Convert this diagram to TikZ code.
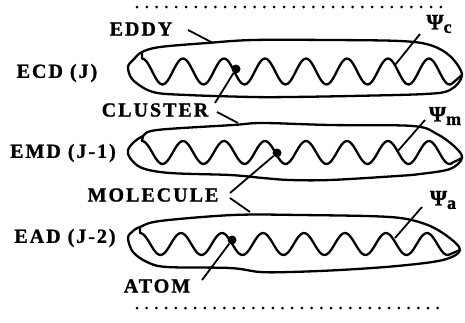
\documentclass[tikz,border=0pt]{standalone}
\usepackage{fontspec}
\setmainfont{Liberation Serif}
\begin{document}
\begin{tikzpicture}[x=1pt,y=-1pt,
  lbl/.style={font=\fontsize{20}{20}\selectfont\bfseries\addfontfeature{LetterSpace=10,FakeBold=1.2}, inner sep=0pt},
  psi/.style={font=\fontsize{22}{22}\selectfont\bfseries\addfontfeature{FakeBold=1.2}, inner sep=0pt},
  outline/.style={line width=2.3pt, line join=round},
  wave/.style={line width=2.3pt, line join=round, line cap=round},
  leader/.style={line width=1.8pt},
  dotmark/.style={circle, fill, inner sep=0pt, minimum size=9pt}
]
\path[use as bounding box] (0,0) rectangle (465,322);

% dotted lines
\foreach \x in {0,...,31} \fill (137+9.8*\x,7) circle (1.5);
\foreach \x in {0,...,31} \fill (137+9.7*\x,308) circle (1.5);

% ---------- row 1 ----------
\draw[outline] plot[smooth cycle, tension=0.55] coordinates {
 (142,52) (160,47) (207,43) (253,40) (330,40) (400,41) (430,45) (450,56) (462,75)
 (450,90) (425,94) (350,96) (290,97) (253,97) (187,95) (153,92) (133,80) (128,67) (134,59)};
\draw[wave] (142,52) -- plot[domain=142:452, samples=160, smooth] (\x,{71.5-13*cos(8.7805*(\x-142))}) -- (462,75);

% ---------- row 2 ----------
\draw[outline] plot[smooth cycle, tension=0.55] coordinates {
 (143,136) (157,130) (233,125) (263,123) (330,125) (413,126) (437,134) (455,147) (462,158)
 (450,169) (420,174) (397,176) (330,180) (290,180) (263,178) (230,175) (170,173) (142,168) (130,158) (128,150) (134,142)};
\draw[wave] (143,136) -- plot[domain=142:453, samples=160, smooth] (\x,{152.5-11.5*cos(8.7805*(\x-142))}) -- (462,158);

% ---------- row 3 ----------
\draw[outline] plot[smooth cycle, tension=0.55] coordinates {
 (140,227) (160,221) (233,215) (300,215) (390,217) (425,224) (447,236) (460,250)
 (443,260) (397,266) (340,270) (290,272) (260,272) (230,268) (167,267) (147,262) (133,252) (128,238) (133,231)};
\draw[wave] (140,227) -- plot[domain=140:450, samples=160, smooth] (\x,{244-11*cos(8.7805*(\x-140))}) -- (460,250);

% dots
\node[dotmark] (dotc) at (236,69) {};
\node[dotmark] (dotm) at (277,153) {};
\node[dotmark] (dota) at (232,240) {};

% labels
\node[lbl] (eddy) at (141,29) {EDDY};
\node[lbl] (ecd) at (57,73) {ECD (J)};
\node[lbl] (cluster) at (155,110) {CLUSTER};
\node[lbl] (emd) at (63,153) {EMD (J-1)};
\node[lbl] (molecule) at (153,195) {MOLECULE};
\node[lbl] (ead) at (65,238) {EAD (J-2)};
\node[lbl] (atom) at (157,286) {ATOM};
\node[psi] (psic) at (439,24) {Ψ\raisebox{-0.35ex}{\fontsize{18}{18}\selectfont c}};
\node[psi] (psim) at (445,116) {Ψ\raisebox{-0.35ex}{\fontsize{18}{18}\selectfont m}};
\node[psi] (psia) at (443,200) {Ψ\raisebox{-0.35ex}{\fontsize{18}{18}\selectfont a}};

% leader end points
\coordinate (eddyA) at (188,30);
\coordinate (eddyB) at (213,43);
\coordinate (clA) at (215,103);
\coordinate (clB) at (217,112);
\coordinate (clC) at (238,123);
\coordinate (moA) at (230,193);
\coordinate (moB) at (230,198);
\coordinate (moC) at (250,212);
\coordinate (atA) at (202,280);
\coordinate (pcA) at (420,34);
\coordinate (pcB) at (395,65);
\coordinate (pmA) at (425,120);
\coordinate (pmB) at (397,152);
\coordinate (paA) at (422,207);
\coordinate (paB) at (395,238);

\draw[leader] (eddyA) -- (eddyB);
\draw[leader] (clA) -- (dotc);
\draw[leader] (clB) -- (clC);
\draw[leader] (moA) -- (dotm);
\draw[leader] (moB) -- (moC);
\draw[leader] (atA) -- (dota);
\draw[leader] (pcA) -- (pcB);
\draw[leader] (pmA) -- (pmB);
\draw[leader] (paA) -- (paB);
\end{tikzpicture}
\end{document}
